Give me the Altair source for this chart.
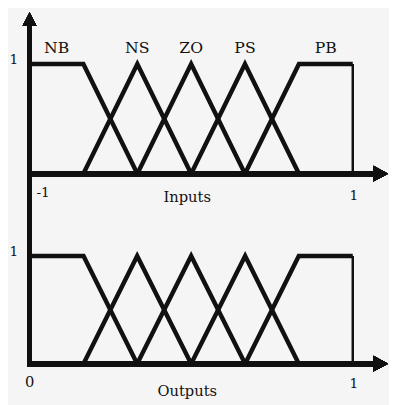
import altair as alt
import pandas as pd

# ---- data ----
set_names = ["NB", "NS", "ZO", "PS", "PB"]
input_x = [[-1.0, -0.667, -0.333], [-0.667, -0.333, 0.0], [-0.333, 0.0, 0.333],
           [0.0, 0.333, 0.667], [0.333, 0.667, 1.0]]
output_x = [[0.0, 0.167, 0.333], [0.167, 0.333, 0.5], [0.333, 0.5, 0.667],
            [0.5, 0.667, 0.833], [0.667, 0.833, 1.0]]
membership = [[1, 1, 0], [0, 1, 0], [0, 1, 0], [0, 1, 0], [0, 1, 1]]
label_x_in = [-0.833, -0.333, 0.0, 0.333, 0.833]
in_ticks = ["-1", "1"]
in_tick_x = [-1.0, 1.0]
out_ticks = ["0", "1"]
out_tick_x = [0.0, 1.0]
in_title = "Inputs"
out_title = "Outputs"

INK = "#111111"
FONT = "DejaVu Serif"
W, H = 389, 397

xs_in = alt.Scale(domain=[-1.13333, 1.22424], nice=False, zero=False)
xs_out = alt.Scale(domain=[-0.066667, 1.112121], nice=False, zero=False)
ys_top = alt.Scale(domain=[-2.07143, 1.47321], nice=False, zero=False)
ys_bot = alt.Scale(domain=[-0.34545, 3.26364], nice=False, zero=False)


def curves(xlists):
    rows = []
    for s, xl, ml in zip(set_names, xlists, membership):
        for i, (xv, mv) in enumerate(zip(xl, ml)):
            rows.append({"set": s, "i": i, "x": xv, "mu": mv})
    return pd.DataFrame(rows)


def panel(xlists, xs, ys, ticks, tick_x, title, top):
    df = curves(xlists)
    X = lambda f: alt.X(f, type="quantitative", scale=xs, axis=None)
    Y = lambda f: alt.Y(f, type="quantitative", scale=ys, axis=None)
    XD = lambda v: alt.X(datum=v, type="quantitative", scale=xs, axis=None)
    YD = lambda v: alt.Y(datum=v, type="quantitative", scale=ys, axis=None)

    layers = []
    # horizontal axis line + arrow
    layers.append(alt.Chart(df).mark_rule(color=INK, strokeWidth=5).encode(
        x=alt.value(19.5), x2=alt.value(377), y=YD(0)))
    layers.append(alt.Chart(df).mark_point(
        shape="M0.94,0L-0.94,1L-0.94,-1Z", filled=True, size=256, color=INK,
        opacity=1, strokeWidth=0).encode(x=alt.value(380.5), y=YD(0)))
    # membership functions
    layers.append(alt.Chart(df).mark_line(
        color=INK, strokeWidth=4.5, strokeJoin="miter").encode(
        x=X("x"), y=Y("mu"), detail="set:N", order="i:Q"))
    # right vertical edge of PB
    last = df[df["set"] == set_names[-1]].iloc[-1]
    edge = pd.DataFrame({"x": [last["x"]], "mu": [last["mu"]], "mu0": [0]})
    layers.append(alt.Chart(edge).mark_rule(color=INK, strokeWidth=2.5).encode(
        x=X("x"), y=Y("mu"), y2="mu0"))
    # y label "1"
    one = pd.DataFrame({"x": [tick_x[0]], "mu": [1], "t": ["1"]})
    layers.append(alt.Chart(one).mark_text(
        font=FONT, fontSize=14, color=INK, dx=-16, dy=-4).encode(
        x=X("x"), y=Y("mu"), text="t:N"))
    # x tick labels
    t0 = pd.DataFrame({"x": [tick_x[0]], "mu": [0], "t": [ticks[0]]})
    t1 = pd.DataFrame({"x": [tick_x[1]], "mu": [0], "t": [ticks[1]]})
    if top:
        layers.append(alt.Chart(t0).mark_text(
            font=FONT, fontSize=14, color=INK, align="left", dx=7, dy=20).encode(
            x=X("x"), y=Y("mu"), text="t:N"))
        layers.append(alt.Chart(t1).mark_text(
            font=FONT, fontSize=14, color=INK, dx=1, dy=23).encode(
            x=X("x"), y=Y("mu"), text="t:N"))
    else:
        layers.append(alt.Chart(t0).mark_text(
            font=FONT, fontSize=15, color=INK, dy=19).encode(
            x=X("x"), y=Y("mu"), text="t:N"))
        layers.append(alt.Chart(t1).mark_text(
            font=FONT, fontSize=14, color=INK, dx=1, dy=21).encode(
            x=X("x"), y=Y("mu"), text="t:N"))
    # axis title
    mid = (tick_x[0] + tick_x[1]) / 2
    tt = pd.DataFrame({"x": [mid], "mu": [0], "t": [title]})
    layers.append(alt.Chart(tt).mark_text(
        font=FONT, fontSize=15, color=INK, dx=-4, dy=24 if top else 28).encode(
        x=X("x"), y=Y("mu"), text="t:N"))
    if top:
        lab = pd.DataFrame({"x": label_x_in, "mu": [1] * 5, "t": set_names})
        layers.append(alt.Chart(lab).mark_text(
            font=FONT, fontSize=16, color=INK, dy=-16).encode(
            x=X("x"), y=Y("mu"), text="t:N"))
        # vertical axis arrow
        layers.append(alt.Chart(df).mark_point(
            shape="M0,-0.964L1,0.964L-1,0.964Z", filled=True, size=196, color=INK,
            opacity=1, strokeWidth=0).encode(x=XD(tick_x[0]), y=alt.value(7.25)))
    else:
        # vertical axis line spanning both panels
        layers.append(alt.Chart(df).mark_rule(color=INK, strokeWidth=5).encode(
            x=XD(tick_x[0]), y=YD(0), y2=alt.value(12)))
    return alt.layer(*layers)


top = panel(input_x, xs_in, ys_top, in_ticks, in_tick_x, in_title, True)
bottom = panel(output_x, xs_out, ys_bot, out_ticks, out_tick_x, out_title, False)

chart = alt.layer(top, bottom).resolve_scale(
    x="independent", y="independent"
).properties(
    width=W, height=H, padding=0, autosize="none", background="#f5f5f5"
).configure_view(stroke=None)

chart.save("out.html", embed_options={"renderer": "svg", "actions": False})
